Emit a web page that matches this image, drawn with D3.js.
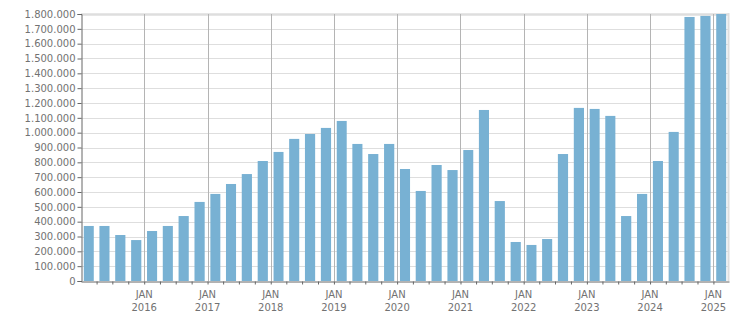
<!DOCTYPE html>
<html>
<head>
<meta charset="utf-8">
<script src="https://cdn.jsdelivr.net/npm/d3@7"></script>
<style>
  body { margin: 0; background: #fff; }
  svg text { font-family: 'DejaVu Sans', sans-serif; font-size: 10px; fill: #727272; }
</style>
</head>
<body>
<div id="chart"></div>
<script>
// quarters from 2015 Q1 to 2025 Q1
const quarters = [
  '2015-01', '2015-04', '2015-07', '2015-10',
  '2016-01', '2016-04', '2016-07', '2016-10',
  '2017-01', '2017-04', '2017-07', '2017-10',
  '2018-01', '2018-04', '2018-07', '2018-10',
  '2019-01', '2019-04', '2019-07', '2019-10',
  '2020-01', '2020-04', '2020-07', '2020-10',
  '2021-01', '2021-04', '2021-07', '2021-10',
  '2022-01', '2022-04', '2022-07', '2022-10',
  '2023-01', '2023-04', '2023-07', '2023-10',
  '2024-01', '2024-04', '2024-07', '2024-10',
  '2025-01'
]
const values = [
  371000, 371000, 310000, 276000,
  337000, 371000, 438000, 533000,
  587000, 654000, 721000, 809000,
  870000, 958000, 991000, 1032000,
  1079000, 924000, 856000, 924000,
  755000, 607000, 782000, 748000,
  883000, 1153000, 539000, 263000,
  243000, 283000, 856000, 1167000,
  1160000, 1113000, 438000, 587000,
  809000, 1005000, 1780000, 1787000,
  1800000
]
const yTicks = d3.range(0, 1800001, 100000)
const yearTicks = ['2016', '2017', '2018', '2019', '2020', '2021', '2022', '2023', '2024', '2025']

const W = 751
const H = 313
const plotLeft = 81
const plotRight = 729
const plotTop = 14
const plotBottom = 281

const parse = d3.timeParse('%Y-%m')
const data = quarters.map((q, i) => ({ start: parse(q), value: values[i] }))
data.forEach(d => { d.end = d3.timeMonth.offset(d.start, 3) })

const locale = d3.formatLocale({ decimal: ',', thousands: '.', grouping: [3], currency: ['', ''] })
const fmt = locale.format(',d')

const x = d3.scaleTime()
  .domain([parse('2015-01'), parse('2025-04')])
  .range([plotLeft, plotRight])

const y = d3.scaleLinear()
  .domain([0, 1800000])
  .range([plotBottom, plotTop])

const svg = d3.select('#chart')
  .append('svg')
  .attr('width', W)
  .attr('height', H)

// horizontal grid
svg.append('g')
  .selectAll('line')
  .data(yTicks.filter(v => v > 0))
  .join('line')
  .attr('x1', plotLeft)
  .attr('x2', plotRight)
  .attr('y1', d => Math.round(y(d)) + 0.5)
  .attr('y2', d => Math.round(y(d)) + 0.5)
  .attr('stroke', '#dedede')
  .attr('stroke-width', d => d === 1800000 ? 2.5 : 1)

// vertical year grid
const yearDates = yearTicks.map(t => parse(t + '-01'))
svg.append('g')
  .selectAll('line')
  .data(yearDates)
  .join('line')
  .attr('x1', d => Math.round(x(d)) + 0.5)
  .attr('x2', d => Math.round(x(d)) + 0.5)
  .attr('y1', plotTop)
  .attr('y2', plotBottom)
  .attr('stroke', '#b4b4b4')

// right border
svg.append('line')
  .attr('x1', plotRight - 0.5)
  .attr('x2', plotRight - 0.5)
  .attr('y1', plotTop - 1)
  .attr('y2', plotBottom)
  .attr('stroke', '#dedede')
  .attr('stroke-width', 2)

// bars
svg.append('g')
  .selectAll('rect')
  .data(data)
  .join('rect')
  .attr('x', d => {
    const w = x(d.end) - x(d.start)
    return x(d.start) + w * 0.18
  })
  .attr('width', d => (x(d.end) - x(d.start)) * 0.64)
  .attr('y', d => y(d.value))
  .attr('height', d => y(0) - y(d.value))
  .attr('fill', '#78b1d3')

// y axis
const yAxis = svg.append('g')
  .attr('transform', `translate(${plotLeft + 0.5},0)`)
  .call(d3.axisLeft(y).tickValues(yTicks).tickFormat(fmt).tickSize(4).tickPadding(2))
yAxis.select('.domain').attr('stroke', '#666')
yAxis.selectAll('.tick line').attr('stroke', '#666')
yAxis.selectAll('text').attr('fill', '#727272').style('font-size', '10px')

// x axis with quarter ticks
const quarterTicks = d3.timeMonth.every(3).range(parse('2015-04'), parse('2025-04'))
const xAxis = svg.append('g')
  .attr('transform', `translate(0,${plotBottom + 0.5})`)
  .call(d3.axisBottom(x).tickValues(quarterTicks).tickFormat('').tickSize(3).tickSizeOuter(0))
xAxis.select('.domain').attr('stroke', '#666')
xAxis.selectAll('.tick line').attr('stroke', '#666')

// year labels
const labels = svg.append('g')
  .selectAll('text')
  .data(yearDates)
  .join('text')
  .attr('x', d => x(d))
  .attr('text-anchor', 'middle')
labels.append('tspan')
  .attr('x', d => x(d))
  .attr('y', 298)
  .text('JAN')
labels.append('tspan')
  .attr('x', d => x(d))
  .attr('y', 311)
  .text(d => d3.timeFormat('%Y')(d))
</script>
</body>
</html>
